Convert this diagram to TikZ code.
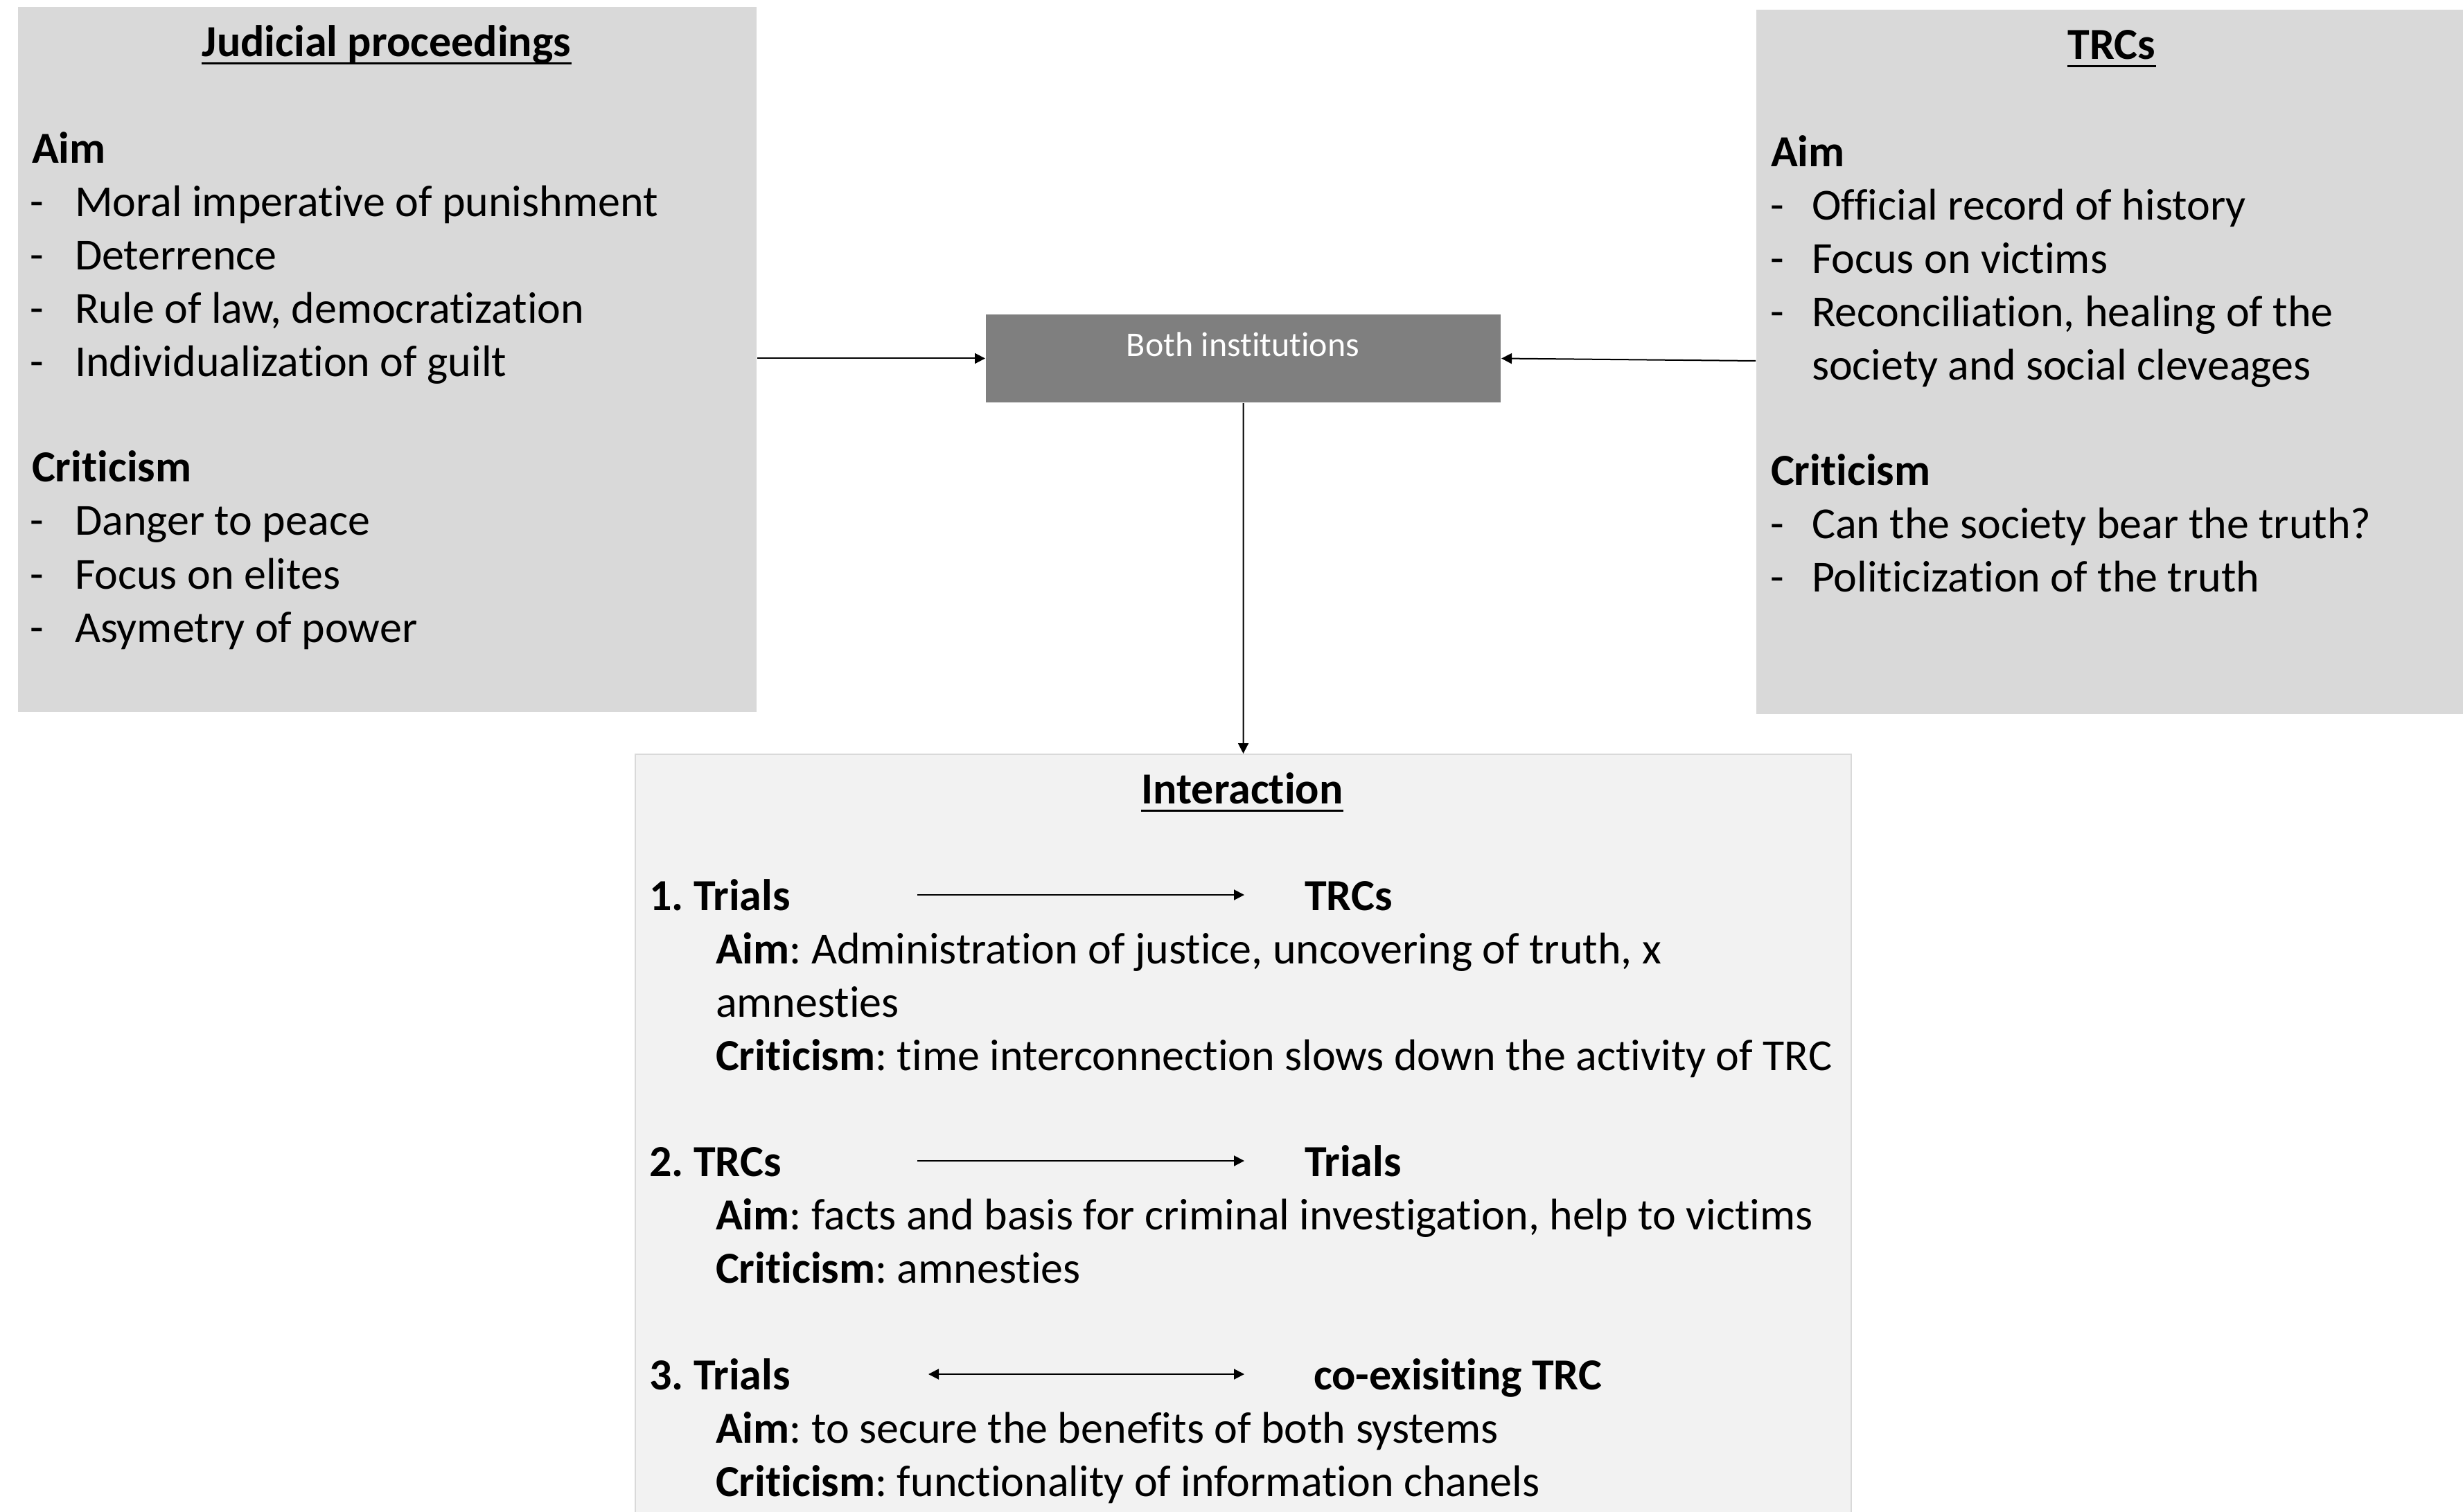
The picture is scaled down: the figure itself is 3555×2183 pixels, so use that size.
\documentclass[tikz,border=0pt]{standalone}
\usepackage{fontspec}
\setmainfont[Ligatures={NoCommon}]{Carlito}
\usetikzlibrary{arrows.meta}
\definecolor{boxgray}{HTML}{D9D9D9}
\definecolor{darkbox}{HTML}{7F7F7F}
\definecolor{lightbox}{HTML}{F2F2F2}
\tikzset{
  txt/.style={anchor=base west, inner sep=0pt, yshift=-0.7pt, font=\fontsize{12.8pt}{15.4pt}\selectfont},
  boldtxt/.style={anchor=base west, inner sep=0pt, yshift=-0.7pt, font=\fontsize{12.8pt}{15.4pt}\selectfont\bfseries},
  head/.style={anchor=base, inner sep=0pt, yshift=-0.7pt, font=\fontsize{12.8pt}{15.4pt}\selectfont\bfseries},
  panel/.style={fill=boxgray, draw=none, anchor=north west, inner sep=0pt},
  conn/.style={line width=0.4pt, -{Triangle[length=3pt,width=3pt]}},
  conntwo/.style={line width=0.4pt, {Triangle[length=3pt,width=3pt]}-{Triangle[length=3pt,width=3pt]}},
  uline/.style={line width=0.7pt},
}
\frenchspacing
\begin{document}
\frenchspacing
\begin{tikzpicture}[x=0.2pt,y=-0.2pt]
\useasboundingbox (0,0) rectangle (3555,2183);
\fill[white] (0,0) rectangle (3555,2183);

% panels
\node[panel, minimum width=213.2pt, minimum height=203.6pt] (jp) at (25,9) {};
\node[panel, minimum width=204.2pt, minimum height=203.4pt] (tr) at (2534,13) {};
\node[panel, fill=darkbox, minimum width=148.6pt, minimum height=25.4pt] (both) at (1422,453) {};
\node[panel, fill=lightbox, draw=boxgray, line width=0.4pt, minimum width=351pt, minimum height=219.8pt] (ia) at (916,1088) {};

% Judicial proceedings
\node[head] (jph) at (558,78) {Judicial proceedings};
\draw[uline] ([yshift=-2pt]jph.base west) -- ([yshift=-2pt]jph.base east);
\node[boldtxt] (jpaim) at (45,232) {Aim};
\node[txt] (jd1) at (42,309) {-};
\node[txt] (ji1) at (107,309) {Moral imperative of punishment};
\node[txt] (jd2) at (42,386) {-};
\node[txt] (ji2) at (107,386) {Deterrence};
\node[txt] (jd3) at (42,463) {-};
\node[txt] (ji3) at (107,463) {Rule of law, democratization};
\node[txt] (jd4) at (42,540) {-};
\node[txt] (ji4) at (107,540) {Individualization of guilt};
\node[boldtxt] (jpcrit) at (45,692) {Criticism};
\node[txt] (jd5) at (42,769) {-};
\node[txt] (ji5) at (107,769) {Danger to peace};
\node[txt] (jd6) at (42,847) {-};
\node[txt] (ji6) at (107,847) {Focus on elites};
\node[txt] (jd7) at (42,924) {-};
\node[txt] (ji7) at (107,924) {Asymetry of power};

% TRCs
\node[head] (trh) at (3048,82) {TRCs};
\draw[uline] ([yshift=-2pt]trh.base west) -- ([yshift=-2pt]trh.base east);
\node[boldtxt] (traim) at (2555,237) {Aim};
\node[txt] (td1) at (2554,314) {-};
\node[txt] (ti1) at (2614,314) {Official record of history};
\node[txt] (td2) at (2554,391) {-};
\node[txt] (ti2) at (2614,391) {Focus on victims};
\node[txt] (td3) at (2554,468) {-};
\node[txt] (ti3) at (2614,468) {Reconciliation, healing of the};
\node[txt] (ti3b) at (2614,545) {society and social cleveages};
\node[boldtxt] (trcrit) at (2555,697) {Criticism};
\node[txt] (td4) at (2554,774) {-};
\node[txt] (ti4) at (2614,774) {Can the society bear the truth?};
\node[txt] (td5) at (2554,851) {-};
\node[txt] (ti5) at (2614,851) {Politicization of the truth};

% Both institutions
\node[anchor=base, inner sep=0pt, text=white, font=\fontsize{10pt}{12pt}\selectfont] (bt) at (1794,515) {Both institutions};

% connectors
\draw[conn] (jp.east |- both.west) -- (both.west);
\coordinate (trt) at (2534,521);
\draw[conn] (trt) -- (both.east);
\draw[conn] (both.south) -- (ia.north);

% Interaction
\node[head] (iah) at (1793,1157) {Interaction};
\draw[uline] ([yshift=-2pt]iah.base west) -- ([yshift=-2pt]iah.base east);

\node[boldtxt] (r1a) at (936,1311) {1. Trials};
\node[boldtxt] (r1b) at (1882,1311) {TRCs};
\coordinate (r1s) at (1324,1292);
\coordinate (r1e) at (1796,1292);
\draw[conn] (r1s) -- (r1e);
\node[txt] (r1aim) at (1032,1388) {\textbf{Aim}: Administration of justice, uncovering of truth, x};
\node[txt] (r1aimb) at (1032,1465) {amnesties};
\node[txt] (r1cr) at (1032,1542) {\textbf{Criticism}: time interconnection slows down the activity of TRC};

\node[boldtxt] (r2a) at (936,1695) {2. TRCs};
\node[boldtxt] (r2b) at (1882,1695) {Trials};
\coordinate (r2s) at (1324,1676);
\coordinate (r2e) at (1796,1676);
\draw[conn] (r2s) -- (r2e);
\node[txt] (r2aim) at (1032,1772) {\textbf{Aim}: facts and basis for criminal investigation, help to victims};
\node[txt] (r2cr) at (1032,1849) {\textbf{Criticism}: amnesties};

\node[boldtxt] (r3a) at (936,2003) {3. Trials};
\node[boldtxt] (r3b) at (1895,2003) {co-exisiting TRC};
\coordinate (r3s) at (1340,1984);
\coordinate (r3e) at (1796,1984);
\draw[conntwo] (r3s) -- (r3e);
\node[txt] (r3aim) at (1032,2080) {\textbf{Aim}: to secure the benefits of both systems};
\node[txt] (r3cr) at (1032,2157) {\textbf{Criticism}: functionality of information chanels};
\end{tikzpicture}
\end{document}
